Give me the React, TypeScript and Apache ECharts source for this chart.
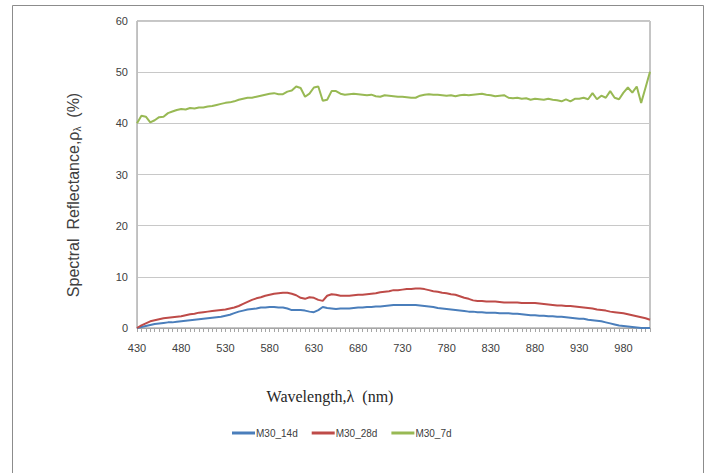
import React, { useEffect, useRef } from "react";
import * as echarts from "echarts";

// Wavelengths (nm), 5 nm steps from 430 to 1010
const wavelengths: number[] = Array.from({ length: 117 }, (_, i) => 430 + 5 * i);

const xTickLabels = ["430", "480", "530", "580", "630", "680", "730", "780", "830", "880", "930", "980"];

const m30_14d = [
  0, 0.2, 0.4, 0.6, 0.8, 0.9, 1.0, 1.1, 1.1, 1.2,
  1.3, 1.4, 1.5, 1.6, 1.7, 1.8, 1.9, 2.0, 2.1, 2.2,
  2.4, 2.6, 2.9, 3.2, 3.4, 3.6, 3.7, 3.8, 4.0, 4.0,
  4.1, 4.1, 4.0, 4.0, 3.8, 3.5, 3.5, 3.5, 3.4, 3.2,
  3.1, 3.5, 4.1, 3.9, 3.8, 3.7, 3.8, 3.8, 3.8, 3.9,
  4.0, 4.0, 4.1, 4.1, 4.2, 4.2, 4.3, 4.4, 4.5, 4.5,
  4.5, 4.5, 4.5, 4.5, 4.4, 4.3, 4.2, 4.1, 3.9, 3.8,
  3.7, 3.6, 3.5, 3.4, 3.3, 3.2, 3.2, 3.1, 3.1, 3.0,
  3.0, 3.0, 2.9, 2.9, 2.9, 2.8, 2.8, 2.7, 2.6, 2.5,
  2.5, 2.4, 2.4, 2.3, 2.3, 2.2, 2.2, 2.1, 2.0, 1.9,
  1.8, 1.8, 1.6, 1.5, 1.4, 1.3, 1.1, 0.9, 0.7, 0.5,
  0.4, 0.3, 0.2, 0.1, 0, 0, 0,
];

const m30_28d = [
  0, 0.5, 0.9, 1.3, 1.5, 1.7, 1.9, 2.0, 2.1, 2.2,
  2.3, 2.5, 2.7, 2.8, 3.0, 3.1, 3.2, 3.3, 3.4, 3.5,
  3.6, 3.8, 4.0, 4.3, 4.7, 5.1, 5.5, 5.8, 6.0, 6.3,
  6.5, 6.7, 6.8, 6.9, 6.9, 6.7, 6.4, 5.9, 5.7, 6.0,
  5.9, 5.5, 5.3, 6.3, 6.6, 6.5, 6.3, 6.3, 6.3, 6.4,
  6.5, 6.5, 6.6, 6.7, 6.8, 7.0, 7.1, 7.2, 7.4, 7.4,
  7.5, 7.6, 7.6, 7.7, 7.7, 7.6, 7.4, 7.2, 7.1, 6.9,
  6.8, 6.6, 6.5, 6.2, 5.9, 5.7, 5.4, 5.3, 5.3, 5.2,
  5.2, 5.2, 5.1, 5.0, 5.0, 5.0, 5.0, 4.9, 4.9, 4.9,
  4.9, 4.8, 4.7, 4.6, 4.5, 4.4, 4.4, 4.3, 4.3, 4.2,
  4.1, 4.0, 3.9, 3.8, 3.6, 3.5, 3.4, 3.2, 3.1, 3.0,
  2.9, 2.7, 2.5, 2.3, 2.1, 1.9, 1.6,
];

const m30_7d = [
  40.0, 41.5, 41.3, 40.2, 40.6, 41.2, 41.3, 42.0, 42.3, 42.6,
  42.8, 42.7, 43.0, 42.9, 43.1, 43.1, 43.3, 43.4, 43.6, 43.8,
  44.0, 44.1, 44.3, 44.6, 44.8, 45.0, 45.0, 45.2, 45.4, 45.6,
  45.8, 45.9, 45.7, 45.7, 46.2, 46.4, 47.2, 46.9, 45.2, 45.8,
  47.0, 47.2, 44.4, 44.6, 46.3, 46.3, 45.8, 45.6, 45.7, 45.8,
  45.7, 45.6, 45.5, 45.6, 45.3, 45.2, 45.5, 45.4, 45.3, 45.2,
  45.2, 45.1, 45.0, 45.0, 45.4, 45.6, 45.7, 45.6, 45.6, 45.5,
  45.4, 45.5, 45.3, 45.5, 45.6, 45.5, 45.6, 45.7, 45.8, 45.6,
  45.5, 45.3, 45.4, 45.5, 45.0, 44.9, 45.0, 44.8, 44.9, 44.6,
  44.8, 44.7, 44.6, 44.8, 44.6, 44.5, 44.3, 44.7, 44.3, 44.8,
  44.8, 45.0, 44.7, 45.9, 44.7, 45.4, 45.0, 46.3, 45.0, 44.7,
  46.0, 47.0, 46.0, 47.2, 44.0, 47.0, 50.1,
];

const seriesNames = ["M30_14d", "M30_28d", "M30_7d"];
const seriesColors = ["#4A7EBB", "#BE4B48", "#98B954"];

export default function App() {
  const ref = useRef<HTMLDivElement>(null);
  useEffect(() => {
    if (!ref.current) return;
    const chart = echarts.init(ref.current, null, { renderer: "svg" });
    const dataSets = [m30_14d, m30_28d, m30_7d];
    chart.setOption({
      animation: false,
      backgroundColor: "#ffffff",
      grid: { left: 137, right: 60, top: 21, bottom: 145, show: true, borderColor: "#8c8c8c", borderWidth: 1 },
      legend: {
        data: seriesNames,
        bottom: 30,
        left: 227,
        icon: "rect",
        itemWidth: 23,
        itemHeight: 3,
        itemGap: 14,
        textStyle: { fontFamily: "Liberation Sans", fontSize: 10, color: "#404040", padding: [0, 0, 0, -4] },
      },
      xAxis: {
        type: "category",
        data: wavelengths.map(String),
        boundaryGap: false,
        axisLine: { lineStyle: { color: "#a6a6a6" } },
        axisTick: { show: true, interval: 0, length: 4, lineStyle: { color: "#a6a6a6" } },
        axisLabel: {
          interval: (idx: number, val: string) => xTickLabels.includes(val),
          fontFamily: "Liberation Sans",
          fontSize: 11,
          color: "#404040",
          margin: 14,
        },
        splitLine: { show: false },
      },
      yAxis: {
        type: "value",
        min: 0,
        max: 60,
        interval: 10,
        axisLine: { show: true, lineStyle: { color: "#bfbfbf" } },
        axisTick: { show: false },
        axisLabel: { fontFamily: "Liberation Sans", fontSize: 11, color: "#404040", margin: 9 },
        splitLine: { lineStyle: { color: "#c8c8c8" } },
      },
      series: dataSets.map((d, i) => ({
        name: seriesNames[i],
        type: "line",
        data: d,
        showSymbol: false,
        symbol: "none",
        lineStyle: { width: 2, color: seriesColors[i] },
        itemStyle: { color: seriesColors[i] },
      })),
      graphic: [
        {
          type: "rect",
          shape: { x: 12.5, y: 5.5, width: 691, height: 480 },
          style: { fill: "none", stroke: "#8c8c8c", lineWidth: 1 },
          silent: true,
        },
        {
          type: "text",
          x: 73,
          y: 195,
          rotation: Math.PI / 2,
          style: {
            text: "{a|Spectral  Reflectance,ρ}{s|λ}{a|  (%)}",
            textAlign: "center",
            textVerticalAlign: "middle",
            rich: {
              a: { fontFamily: "Liberation Sans", fontSize: 16, fill: "#404040", lineHeight: 20 },
              s: { fontFamily: "Liberation Sans", fontSize: 10, fill: "#404040", padding: [8, 0, 0, 0], lineHeight: 20 },
            },
          },
        },
        {
          type: "text",
          x: 330,
          y: 396,
          style: {
            text: "Wavelength,λ  (nm)",
            textAlign: "center",
            textVerticalAlign: "middle",
            fontFamily: "Liberation Serif",
            fontSize: 16,
            fill: "#262626",
          },
        },
      ],
    });
    return () => chart.dispose();
  }, []);
  return <div ref={ref} style={{ width: 710, height: 473, position: "absolute", left: 0, top: 0 }} />;
}
